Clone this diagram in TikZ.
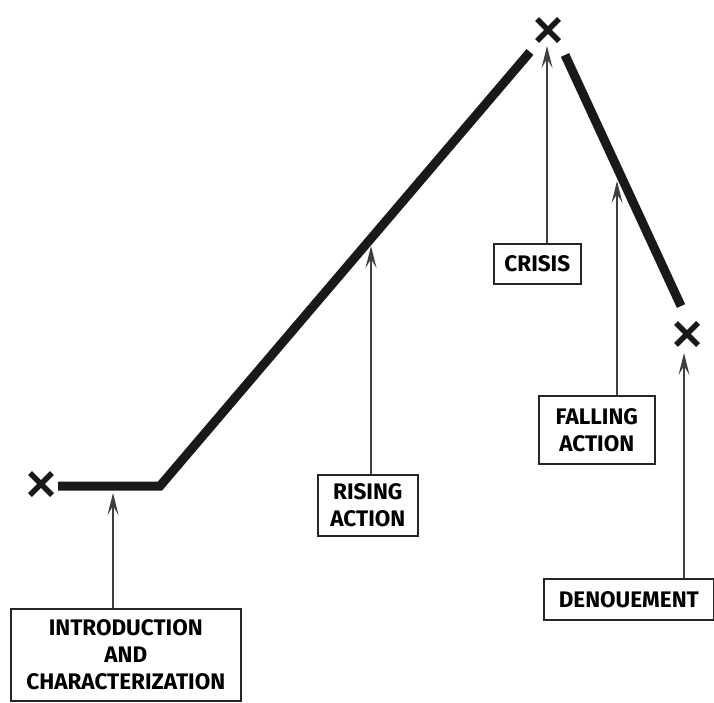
\documentclass[tikz,border=0pt]{standalone}
\usepackage{fontspec}
\setmainfont{Fira Sans}
\usetikzlibrary{arrows.meta,calc}
\tikzset{
  lbl/.style={draw=black!85, line width=1.6pt, fill=white, font=\fontsize{22.5}{27}\selectfont\bfseries, align=center, inner sep=0pt},
  pointer/.style={draw=black!75, line width=1.3pt, -{Stealth[length=22pt,width=11pt,inset=9pt]}},
  plot/.style={line width=9pt, black!90},
  xmark/.style={line width=5.5pt, black!90}
}
\newcommand{\xm}[1]{\draw[xmark] ($(#1)+(-11,-11)$) -- ($(#1)+(11,11)$) ($(#1)+(-11,11)$) -- ($(#1)+(11,-11)$);}
\begin{document}
\begin{tikzpicture}[x=1pt,y=-1pt]
\useasboundingbox (0,0) rectangle (714,703);
\fill[white] (0,0) rectangle (714,703);
% markers
\coordinate (xl) at (41,484);
\coordinate (xt) at (548,30);
\coordinate (xr) at (687,334);
\xm{xl}
\xm{xt}
\xm{xr}
% plot line
\coordinate (p0) at (58,486);
\coordinate (p1) at (160,486);
\coordinate (p2) at (530,52);
\coordinate (p3) at (565,55);
\coordinate (p4) at (681,306);
\draw[plot] (p0) -- (p1) -- (p2);
\draw[plot] (p3) -- (p4);
% boxes
\node[lbl, minimum width=230pt, minimum height=92pt, anchor=north west] (intro) at (10,608) {INTRODUCTION\\AND\\CHARACTERIZATION};
\node[lbl, minimum width=100pt, minimum height=61pt, anchor=north west] (rising) at (317,474) {RISING\\ACTION};
\node[lbl, minimum width=87pt, minimum height=40pt, anchor=north west] (crisis) at (493,243) {CRISIS};
\node[lbl, minimum width=116pt, minimum height=68pt, anchor=north west] (falling) at (538,395) {FALLING\\ACTION};
\node[lbl, minimum width=170pt, minimum height=41pt, anchor=north west] (den) at (543,578) {DENOUEMENT};
% targets
\coordinate (tintro) at (113,493);
\coordinate (trising) at (371,246);
\coordinate (tcrisis) at (547,46);
\coordinate (tfalling) at (617,181);
\coordinate (tden) at (684,353);
\draw[pointer] (intro.north -| tintro) -- (tintro);
\draw[pointer] (rising.north -| trising) -- (trising);
\draw[pointer] (crisis.north -| tcrisis) -- (tcrisis);
\draw[pointer] (falling.north -| tfalling) -- (tfalling);
\draw[pointer] (den.north -| tden) -- (tden);
\end{tikzpicture}
\end{document}
